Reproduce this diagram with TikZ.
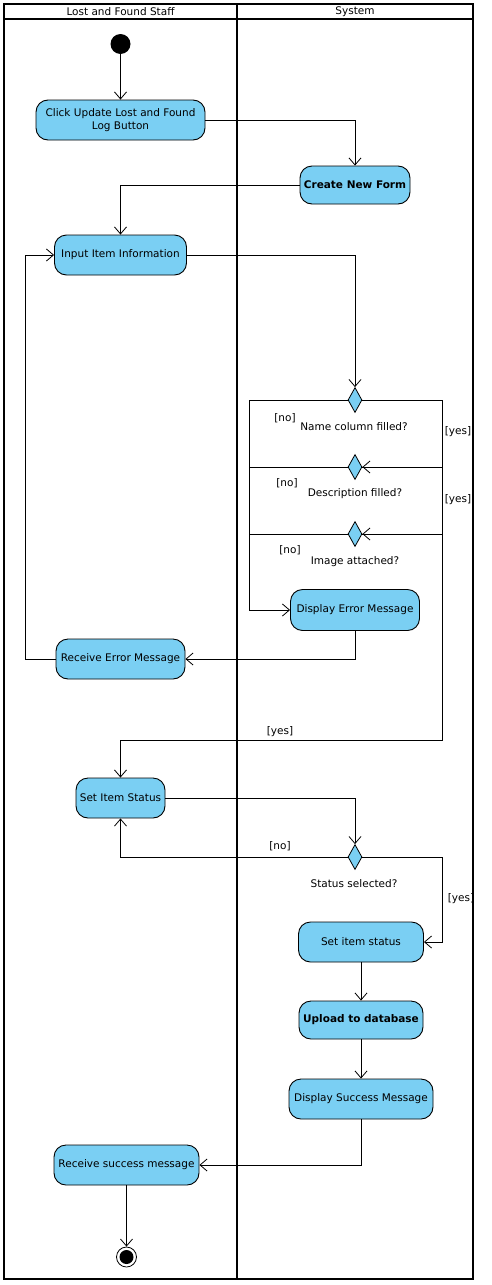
\documentclass[tikz,border=0pt]{standalone}
\usepackage{fontspec}
\setmainfont{DejaVu Sans}
\usetikzlibrary{arrows.meta,shapes.geometric}
\definecolor{actblue}{RGB}{122,207,243}
\begin{document}
\begin{tikzpicture}[x=1pt,y=-1pt,
  act/.style={draw=black,fill=actblue,rounded corners=12pt,line width=0.9pt,inner sep=2pt,font=\fontsize{10.5}{12.5}\selectfont,align=center},
  dec/.style={diamond,draw=black,fill=actblue,line width=0.8pt,minimum width=14pt,minimum height=25pt,inner sep=0pt,aspect=0.56},
  flow/.style={draw=black,line width=0.8pt,-{Straight Barb[length=7pt,width=12pt]}},
  plain/.style={draw=black,line width=0.8pt},
  lbl/.style={font=\fontsize{10.5}{12.5}\selectfont,inner sep=0pt},
  lane/.style={draw=black,line width=2pt}
]
\useasboundingbox (0,0) rectangle (491,1285);
\fill[white] (0,0) rectangle (491,1285);

% swimlanes
\draw[lane] (4,4) rectangle (473,1279);
\draw[lane] (4,19) -- (473,19);
\draw[lane] (237,4) -- (237,1279);
\node[lbl] (laneA) at (120.5,12) {Lost and Found Staff};
\node[lbl] (laneB) at (355,12) {System};

% nodes
\node[circle,fill=black,minimum size=20pt,inner sep=0pt] (init) at (120.5,44) {};
\node[act,minimum width=169pt,minimum height=40pt] (click) at (120.5,120) {Click Update Lost and Found\\Log Button};
\node[act,minimum width=110pt,minimum height=38pt,font=\fontsize{10.5}{12.5}\selectfont\bfseries] (create) at (355,185) {Create New Form};
\node[act,minimum width=132pt,minimum height=40pt] (input) at (120.5,255) {Input Item Information};
\node[dec] (d1) at (355,400) {};
\node[dec] (d2) at (355,467) {};
\node[dec] (d3) at (355,534) {};
\node[act,minimum width=129pt,minimum height=41pt] (derr) at (355,610) {Display Error Message};
\node[act,minimum width=129pt,minimum height=40pt] (recerr) at (120.5,659) {Receive Error Message};
\node[act,minimum width=89pt,minimum height=40pt] (setstatus) at (120.5,798) {Set Item Status};
\node[dec] (d4) at (355,857) {};
\node[act,minimum width=125pt,minimum height=40pt] (setst2) at (361,942) {Set item status};
\node[act,minimum width=124pt,minimum height=38pt,font=\fontsize{10.5}{12.5}\selectfont\bfseries] (upload) at (361,1020) {Upload to database};
\node[act,minimum width=144pt,minimum height=40pt] (dsucc) at (361,1099) {Display Success Message};
\node[act,minimum width=145pt,minimum height=40pt] (recsucc) at (126.5,1165) {Receive success message};
\node[circle,draw=black,fill=white,line width=0.8pt,minimum size=20pt,inner sep=0pt] (final) at (126.5,1257) {};
\node[circle,fill=black,minimum size=14pt,inner sep=0pt] (finalin) at (final) {};

% labels
\node[lbl] (l1no) at (285,418) {[no]};
\node[lbl] (l1q) at (354,427) {Name column filled?};
\node[lbl] (l1yes) at (458,432) {[yes]};
\node[lbl] (l2no) at (287,483) {[no]};
\node[lbl] (l2q) at (355,494) {Description filled?};
\node[lbl] (l2yes) at (458,500) {[yes]};
\node[lbl] (l3no) at (290,550) {[no]};
\node[lbl] (l3q) at (355,562) {Image attached?};
\node[lbl] (l3yes) at (280,732) {[yes]};
\node[lbl] (l4no) at (280,846) {[no]};
\node[lbl] (l4q) at (354,884) {Status selected?};
\node[lbl] (l4yes) at (461,899) {[yes]};

% flows
\draw[flow] (init) -- (click);
\draw[flow] (click.east) -| (create.north);
\draw[flow] (create.west) -| (input.north);
\draw[flow] (input.east) -| (d1.north);
\draw[flow] (d1.east) -- (442,400) |- (d2.east);
\draw[flow] (d2.east) -- (442,467) |- (d3.east);
\draw[flow] (d3.east) -- (442,534) -- (442,740) -| (setstatus.north);
\draw[flow] (d1.west) -- (249,400) |- (derr.west);
\draw[plain] (d2.west) -- (249,467);
\draw[plain] (d3.west) -- (249,534);
\draw[flow] (derr.south) |- (recerr.east);
\draw[flow] (recerr.west) -- (25,659) |- (input.west);
\draw[flow] (setstatus.east) -| (d4.north);
\draw[flow] (d4.west) -| (setstatus.south);
\draw[flow] (d4.east) -- (442,857) |- (setst2.east);
\draw[flow] (setst2) -- (upload);
\draw[flow] (upload) -- (dsucc);
\draw[flow] (dsucc.south) |- (recsucc.east);
\draw[flow] (recsucc) -- (final);
\end{tikzpicture}
\end{document}
